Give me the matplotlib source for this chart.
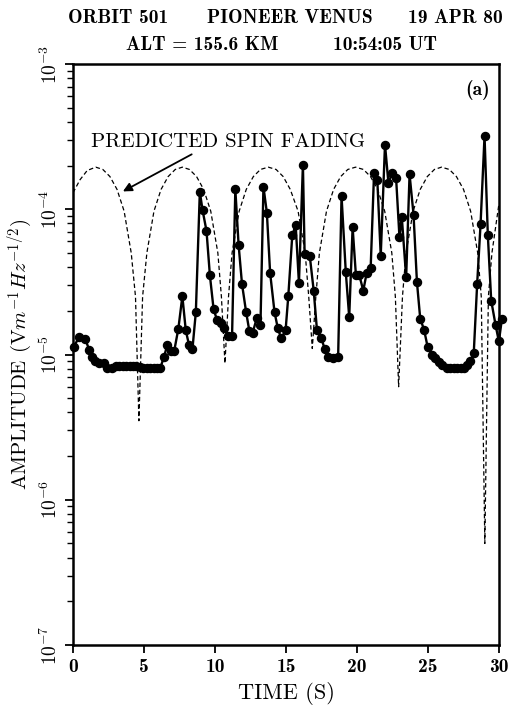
import numpy as np
import matplotlib
matplotlib.use("Agg")
import matplotlib.pyplot as plt

# ============================================================
# Donnees
# ============================================================

# amplitude mesuree (points)
t_obs = [0.04, 0.44, 0.86, 1.15, 1.33, 1.57, 1.85, 2.16, 2.4, 2.75,
         3.03, 3.27, 3.51, 3.75, 3.99, 4.23, 4.47, 4.71, 4.95, 5.19,
         5.43, 5.67, 5.91, 6.15, 6.4, 6.64, 6.88, 7.12, 7.42, 7.7,
         7.94, 8.17, 8.41, 8.65, 8.93, 9.12, 9.4, 9.64, 9.9, 10.15,
         10.42, 10.65, 10.93, 11.2, 11.43, 11.66, 11.9, 12.19, 12.42, 12.65,
         12.94, 13.2, 13.41, 13.65, 13.88, 14.19, 14.42, 14.66, 14.97, 15.16,
         15.44, 15.68, 15.91, 16.19, 16.31, 16.67, 16.95, 17.18, 17.49, 17.73,
         17.96, 18.32, 18.67, 18.91, 19.21, 19.45, 19.69, 19.92, 20.16, 20.44,
         20.68, 20.96, 21.2, 21.43, 21.67, 21.97, 22.21, 22.49, 22.75, 22.99,
         23.15, 23.46, 23.7, 23.98, 24.22, 24.45, 24.73, 24.97, 25.28, 25.51,
         25.75, 25.99, 26.34, 26.58, 26.82, 27.05, 27.29, 27.52, 27.76, 27.99,
         28.22, 28.46, 28.7, 28.98, 29.21, 29.45, 29.76, 29.99, 30.2]
amp_obs = [1.12e-5, 1.33e-5, 1.28e-5, 1.07e-5, 9.6e-6, 9.0e-6, 8.8e-6, 8.7e-6, 8.1e-6, 8.1e-6,
           8.4e-6, 8.4e-6, 8.4e-6, 8.4e-6, 8.4e-6, 8.4e-6, 8.4e-6, 8.2e-6, 8.1e-6, 8.1e-6,
           8.1e-6, 8.1e-6, 8.1e-6, 8.1e-6, 9.6e-6, 1.16e-5, 1.05e-5, 1.05e-5, 1.51e-5, 2.52e-5,
           1.47e-5, 1.16e-5, 1.09e-5, 1.96e-5, 1.32e-4, 9.9e-5, 7.1e-5, 3.5e-5, 2.05e-5, 1.72e-5,
           1.65e-5, 1.52e-5, 1.35e-5, 1.35e-5, 1.37e-4, 5.7e-5, 3.06e-5, 1.96e-5, 1.45e-5, 1.41e-5,
           1.78e-5, 1.59e-5, 1.43e-4, 9.5e-5, 3.65e-5, 1.96e-5, 1.52e-5, 1.29e-5, 1.47e-5, 2.52e-5,
           6.6e-5, 7.8e-5, 3.1e-5, 2.03e-4, 4.9e-5, 4.8e-5, 2.75e-5, 1.47e-5, 1.29e-5, 1.09e-5,
           9.6e-6, 9.4e-6, 9.6e-6, 1.23e-4, 3.68e-5, 1.81e-5, 7.5e-5, 3.53e-5, 3.53e-5, 2.75e-5,
           3.65e-5, 3.93e-5, 1.78e-4, 1.58e-4, 4.8e-5, 2.79e-4, 1.52e-4, 1.78e-4, 1.65e-4, 6.4e-5,
           8.9e-5, 3.4e-5, 1.74e-4, 9.2e-5, 3.15e-5, 1.77e-5, 1.47e-5, 1.13e-5, 1.0e-5, 9.5e-6,
           8.9e-6, 8.45e-6, 8.1e-6, 8.1e-6, 8.1e-6, 8.1e-6, 8.1e-6, 8.1e-6, 8.45e-6, 9.0e-6,
           1.02e-5, 3.06e-5, 7.9e-5, 3.2e-4, 6.7e-5, 2.35e-5, 1.59e-5, 1.23e-5, 1.75e-5]

# evanouissement predit (tirets)
t_pred = [0.0, 0.5, 1.0, 1.6, 2.1, 2.6, 3.1, 3.6, 4.1, 4.4, 4.64, 4.9, 5.2, 5.7,
          6.2, 6.7, 7.2, 7.7, 8.2, 8.7, 9.2, 9.7, 10.2, 10.45, 10.7, 10.95, 11.2, 11.7,
          12.2, 12.7, 13.2, 13.75, 14.3, 14.8, 15.3, 15.85, 16.35, 16.6, 16.85, 17.1, 17.35, 17.85,
          18.35, 18.85, 19.35, 19.9, 20.45, 20.95, 21.45, 21.95, 22.45, 22.7, 22.93, 23.2, 23.45, 23.95,
          24.45, 24.95, 25.45, 25.95, 26.5, 27.0, 27.5, 28.0, 28.5, 28.75, 29.0, 29.25, 29.5, 30.0]
amp_pred = [1.30e-4, 1.6e-4, 1.85e-4, 1.95e-4, 1.88e-4, 1.68e-4, 1.37e-4, 9.7e-5, 5.0e-5, 2.5e-5, 3.5e-6, 2.5e-5, 5.0e-5, 9.7e-5,
            1.37e-4, 1.68e-4, 1.88e-4, 1.95e-4, 1.88e-4, 1.68e-4, 1.37e-4, 9.7e-5, 5.0e-5, 2.5e-5, 8.7e-6, 2.5e-5, 5.0e-5, 9.7e-5,
            1.37e-4, 1.68e-4, 1.88e-4, 1.95e-4, 1.88e-4, 1.68e-4, 1.37e-4, 9.7e-5, 5.0e-5, 2.5e-5, 1.1e-5, 2.5e-5, 5.0e-5, 9.7e-5,
            1.37e-4, 1.68e-4, 1.88e-4, 1.95e-4, 1.88e-4, 1.68e-4, 1.37e-4, 9.7e-5, 5.0e-5, 2.5e-5, 6.0e-6, 2.5e-5, 5.0e-5, 9.7e-5,
            1.37e-4, 1.68e-4, 1.88e-4, 1.95e-4, 1.88e-4, 1.68e-4, 1.37e-4, 9.7e-5, 5.0e-5, 2.5e-5, 5.0e-7, 2.5e-5, 5.0e-5, 1.1e-4]

x_ticks = [0, 5, 10, 15, 20, 25, 30]
y_ticks = [1e-7, 1e-6, 1e-5, 1e-4, 1e-3]
y_ticklabels = [r"$\mathbf{10^{-7}}$", r"$\mathbf{10^{-6}}$", r"$\mathbf{10^{-5}}$",
                r"$\mathbf{10^{-4}}$", r"$\mathbf{10^{-3}}$"]

# ============================================================
# Figure
# ============================================================

plt.rcParams['mathtext.fontset'] = 'cm'
plt.rcParams['axes.unicode_minus'] = False

fig = plt.figure(figsize=(5.16, 7.06), dpi=100)
ax = fig.add_axes([0.1415, 0.0864, 0.8256, 0.8229])

ax.set_yscale('log')
ax.set_xlim(0, 30)
ax.set_ylim(1e-7, 1e-3)

ax.plot(t_pred, amp_pred, color='black', lw=0.9, dashes=(3.5, 2.2))
ax.plot(t_obs, amp_obs, color='black', lw=1.7, marker='o', ms=5.8,
        clip_on=False, zorder=3)

for s in ax.spines.values():
    s.set_linewidth(1.8)

ax.set_xticks(x_ticks)
ax.set_xticklabels([str(v) for v in x_ticks], fontfamily='cmb10', fontsize=14)
ax.set_yticks(y_ticks)
ax.set_yticklabels(y_ticklabels, rotation=90, va='center', fontsize=14)
ax.tick_params(axis='both', which='major', direction='out', length=6, width=1.3, pad=3)
ax.tick_params(axis='y', which='minor', direction='out', length=4, width=1.0)
ax.tick_params(axis='x', which='minor', bottom=False)

ax.set_xlabel("TIME (S)", fontfamily='cmr10', fontsize=16, labelpad=5)
ax.set_ylabel(r"AMPLITUDE ($\mathrm{V}m^{-1}Hz^{-1/2}$)", fontfamily='cmr10',
              fontsize=15, labelpad=4)

# Annotations
ax.text(1.24, 2.7e-4, "PREDICTED SPIN FADING", fontfamily='cmr10', fontsize=15,
        va='baseline')
ax.annotate("", xy=(3.34, 1.3e-4), xytext=(8.53, 2.44e-4),
            arrowprops=dict(arrowstyle='-|>', color='black', lw=1.3,
                            mutation_scale=13))
ax.text(28.5, 6.6e-4, "(a)", fontfamily='cmb10', fontsize=14, ha='center', va='center')

# Titre
fig.text(0.132, 0.967, "ORBIT 501", fontfamily='cmb10', fontsize=14, va='baseline')
fig.text(0.401, 0.967, "PIONEER VENUS", fontfamily='cmb10', fontsize=14, va='baseline')
fig.text(0.791, 0.967, "19 APR 80", fontfamily='cmb10', fontsize=14, va='baseline')
fig.text(0.244, 0.929, "ALT = 155.6 KM", fontfamily='cmb10', fontsize=14, va='baseline')
fig.text(0.645, 0.929, "10:54:05 UT", fontfamily='cmb10', fontsize=14, va='baseline')

fig.savefig("out.png", dpi=100)
